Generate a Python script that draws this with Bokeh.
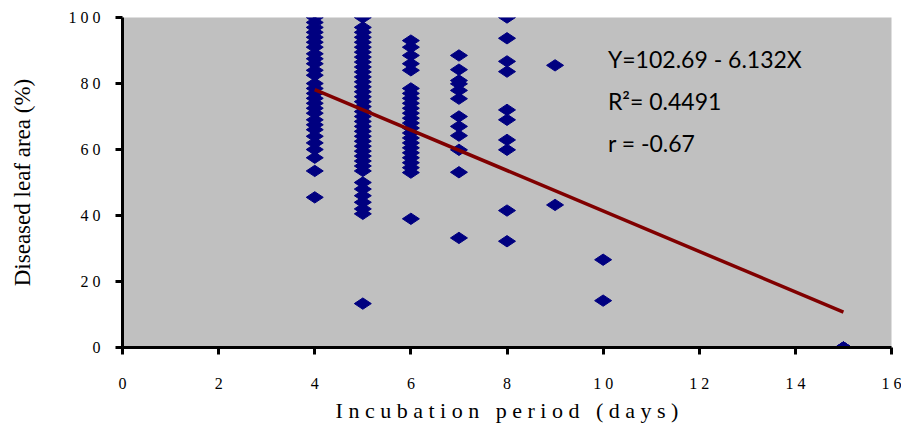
import numpy as np
from bokeh.plotting import figure
from bokeh.models import Label, FixedTicker, Range1d
from bokeh.embed import file_html
from bokeh.resources import INLINE
from bokeh.core.properties import value

# Diseased leaf area (%) observed for each incubation period (days)
dla_day4 = [100, 98.5, 97, 95.5, 94, 92.5, 91, 89, 87.5, 86, 84, 82.5, 80, 78.5,
            77, 75.5, 74, 72.5, 71, 69, 67.5, 66, 64, 62, 60, 57.5, 53.5, 45.5]
dla_day5 = [100, 97, 95.5, 94, 92.5, 91, 89.5, 88, 86.5, 85, 83.5, 82, 80.5, 79,
            77.5, 76, 74.5, 73, 71.5, 70, 68.5, 67, 65.5, 64, 62.5, 61, 59.5, 58,
            56.5, 55, 53.5, 50, 48, 46, 44, 42, 40.5, 13.3]
dla_day6 = [93, 91, 88.5, 86, 84, 78.5, 77, 75.5, 74, 72.5, 71, 69.5, 68, 66.5,
            65, 63.5, 62, 60.5, 59, 57.5, 56, 54.5, 53, 39]
dla_day7 = [88.5, 84.2, 80.9, 79.9, 77.9, 75.4, 70, 67, 64.2, 59.9, 53.1, 33.2]
dla_day8 = [100, 93.7, 86.7, 83.6, 72, 69, 62.9, 59.9, 41.5, 32.2]
dla_day9 = [85.5, 43.2]
dla_day10 = [26.6, 14.2]
dla_day15 = [0, 0, 0]

incubation_days = [4, 5, 6, 7, 8, 9, 10, 15]
dla_groups = [dla_day4, dla_day5, dla_day6, dla_day7, dla_day8, dla_day9, dla_day10, dla_day15]

intercept = 102.69
slope = -6.132
fit_x = [4, 15]

x_ticks = [0, 2, 4, 6, 8, 10, 12, 14, 16]
y_ticks = [0, 20, 40, 60, 80, 100]
x_title = "Incubation period (days)"
y_title = "Diseased leaf area (%)"
stats_text = ["Y=102.69 - 6.132X", "R\u00b2= 0.4491", "r = -0.67"]

xs = []
ys = []
for d, vals in zip(incubation_days, dla_groups):
    xs.extend([d] * len(vals))
    ys.extend(vals)

fit_y = [intercept + slope * v for v in fit_x]

p = figure(width=901, height=427, output_backend="svg", toolbar_location=None,
           x_range=Range1d(0, 16), y_range=Range1d(0, 100),
           min_border_left=122, min_border_right=10, min_border_top=17, min_border_bottom=80)

p.background_fill_color = "#C0C0C0"
p.border_fill_color = "white"
p.outline_line_color = None
p.xgrid.visible = False
p.ygrid.visible = False

p.scatter(xs, ys, marker="diamond", size=17, angle=np.pi / 2,
          fill_color="#000080", line_color="#000080")
p.line(fit_x, fit_y, line_color="#800000", line_width=3.5)


def spaced(v):
    # the original chart draws its axis texts letter-spaced
    return " \u00a0 ".join(" ".join(w) for w in str(v).split(" "))


for ax in (p.xaxis[0], p.yaxis[0]):
    ax.axis_line_color = "black"
    ax.axis_line_width = 3
    ax.major_tick_line_color = "black"
    ax.major_tick_line_width = 3
    ax.major_tick_in = 0
    ax.major_tick_out = 7
    ax.minor_tick_line_color = None
    ax.major_label_text_font = "Liberation Serif"
    ax.major_label_text_font_size = "16px"
    ax.major_label_text_color = "black"
    ax.axis_label_text_font = "Liberation Serif"
    ax.axis_label_text_font_style = "normal"
    ax.axis_label_text_color = "black"

p.xaxis.ticker = FixedTicker(ticks=x_ticks)
p.yaxis.ticker = FixedTicker(ticks=y_ticks)
p.xaxis.major_label_overrides = {t: spaced(t) for t in x_ticks}
p.yaxis.major_label_overrides = {t: spaced(t) for t in y_ticks}
p.xaxis.axis_label = spaced(x_title)
p.yaxis.axis_label = y_title
p.xaxis.axis_label_text_font_size = "22px"
p.yaxis.axis_label_text_font_size = "23px"
p.xaxis.major_label_standoff = 20
p.xaxis.axis_label_standoff = 3
p.yaxis.major_label_standoff = 15
p.yaxis.axis_label_standoff = 31

for txt, yy in zip(stats_text, [87.3, 74.6, 61.9]):
    p.add_layout(Label(x=10.1, y=yy, text=txt, text_font="Lato",
                       text_font_size="23px", text_color="black",
                       text_baseline="alphabetic", text_align="left"))

open("out.html", "w").write(file_html(p, INLINE))
